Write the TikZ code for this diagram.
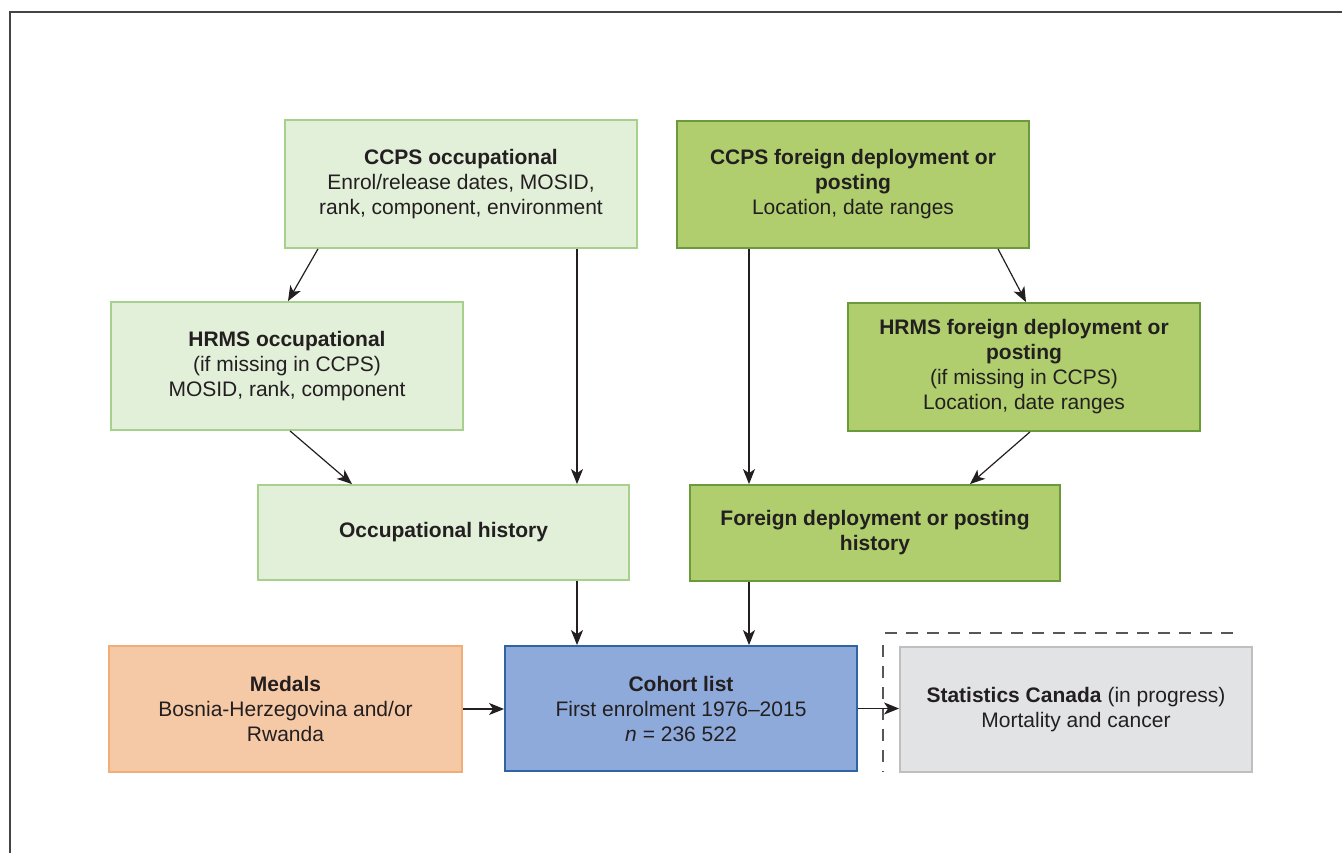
\documentclass[tikz,border=0pt]{standalone}
\usepackage{fontspec}
\setmainfont{Liberation Sans}
\usetikzlibrary{arrows.meta,calc}
\definecolor{txt}{HTML}{231F20}
\definecolor{lgfill}{HTML}{E2EFD9}
\definecolor{lgdraw}{HTML}{A8D08D}
\definecolor{mgfill}{HTML}{B0CE6E}
\definecolor{mgdraw}{HTML}{6A9A3A}
\definecolor{orfill}{HTML}{F6C9A6}
\definecolor{ordraw}{HTML}{F2AC75}
\definecolor{blfill}{HTML}{8EAADB}
\definecolor{bldraw}{HTML}{2F64A4}
\definecolor{gyfill}{HTML}{E2E3E5}
\definecolor{gydraw}{HTML}{BFBFBF}
\definecolor{frame}{HTML}{444444}
\tikzset{
  box/.style={rectangle, line width=1.8pt, align=center, inner sep=0pt,
    font=\fontsize{21}{25}\selectfont, text=txt, minimum width=352pt, minimum height=128pt},
  lgbox/.style={box, fill=lgfill, draw=lgdraw},
  mgbox/.style={box, fill=mgfill, draw=mgdraw},
  orbox/.style={box, fill=orfill, draw=ordraw},
  blbox/.style={box, fill=blfill, draw=bldraw},
  gybox/.style={box, fill=gyfill, draw=gydraw},
  arr/.style={-{Stealth[length=15pt,width=12pt,inset=4pt]}, line width=1.2pt, draw=txt},
}
\begin{document}
\begin{tikzpicture}[x=1pt,y=-1pt]
\useasboundingbox (0,0) rectangle (1342,853);
\draw[frame, line width=2pt] (10,853) -- (10,12) -- (1342,12);

\node[lgbox] (ccpsocc) at (461,184) {\textbf{CCPS occupational}\\Enrol/release dates, MOSID,\\rank, component, environment};
\node[mgbox, minimum height=127pt] (ccpsfor) at (853,184.5) {\textbf{CCPS foreign deployment or}\\\textbf{posting}\\Location, date ranges};
\node[lgbox] (hrmsocc) at (287,366) {\textbf{HRMS occupational}\\(if missing in CCPS)\\MOSID, rank, component};
\node[mgbox] (hrmsfor) at (1024,367) {\textbf{HRMS foreign deployment or}\\\textbf{posting}\\(if missing in CCPS)\\Location, date ranges};
\node[lgbox, minimum width=371pt, minimum height=95pt] (occhist) at (443.5,532.5) {\textbf{Occupational history}};
\node[mgbox, minimum width=370pt, minimum height=96pt] (forhist) at (875,533) {\textbf{Foreign deployment or posting}\\\textbf{history}};
\node[orbox, minimum width=353pt, minimum height=126pt] (medals) at (285.5,709) {\textbf{Medals}\\Bosnia-Herzegovina and/or\\Rwanda};
\node[blbox, minimum height=125pt] (cohort) at (681,708.5) {\textbf{Cohort list}\\First enrolment 1976--2015\\\textit{n} = 236 522};
\node[gybox, minimum height=125pt] (stats) at (1076,709.5) {\textbf{Statistics Canada} (in progress)\\Mortality and cancer};

\coordinate (dh1) at (885,633);
\coordinate (dh2) at (1240,633);
\coordinate (dv1) at (883,645);
\coordinate (dv2) at (883,772);
\draw[frame!90, line width=1.5pt, dash pattern=on 12pt off 9pt] (dh1) -- (dh2);
\draw[frame!90, line width=1.5pt, dash pattern=on 12pt off 9pt] (dv1) -- (dv2);

\draw[arr] ([xshift=-143pt]ccpsocc.south) -- ([xshift=1pt]hrmsocc.north);
\draw[arr] ([xshift=116pt]ccpsocc.south) -- ([xshift=133.5pt]occhist.north);
\draw[arr] ([xshift=3pt]hrmsocc.south) -- ([xshift=-91.5pt]occhist.north);
\draw[arr] ([xshift=-104pt]ccpsfor.south) -- ([xshift=-126pt]forhist.north);
\draw[arr] ([xshift=145pt]ccpsfor.south) -- ([xshift=2pt]hrmsfor.north);
\draw[arr] ([xshift=6pt]hrmsfor.south) -- ([xshift=95pt]forhist.north);
\draw[arr] ([xshift=133.5pt]occhist.south) -- ([xshift=-104pt]cohort.north);
\draw[arr] ([xshift=-126pt]forhist.south) -- ([xshift=68pt]cohort.north);
\draw[arr] (medals.east) -- (cohort.west |- medals.east);
\draw[arr] (cohort.east) -- (stats.west |- cohort.east);
\end{tikzpicture}
\end{document}
